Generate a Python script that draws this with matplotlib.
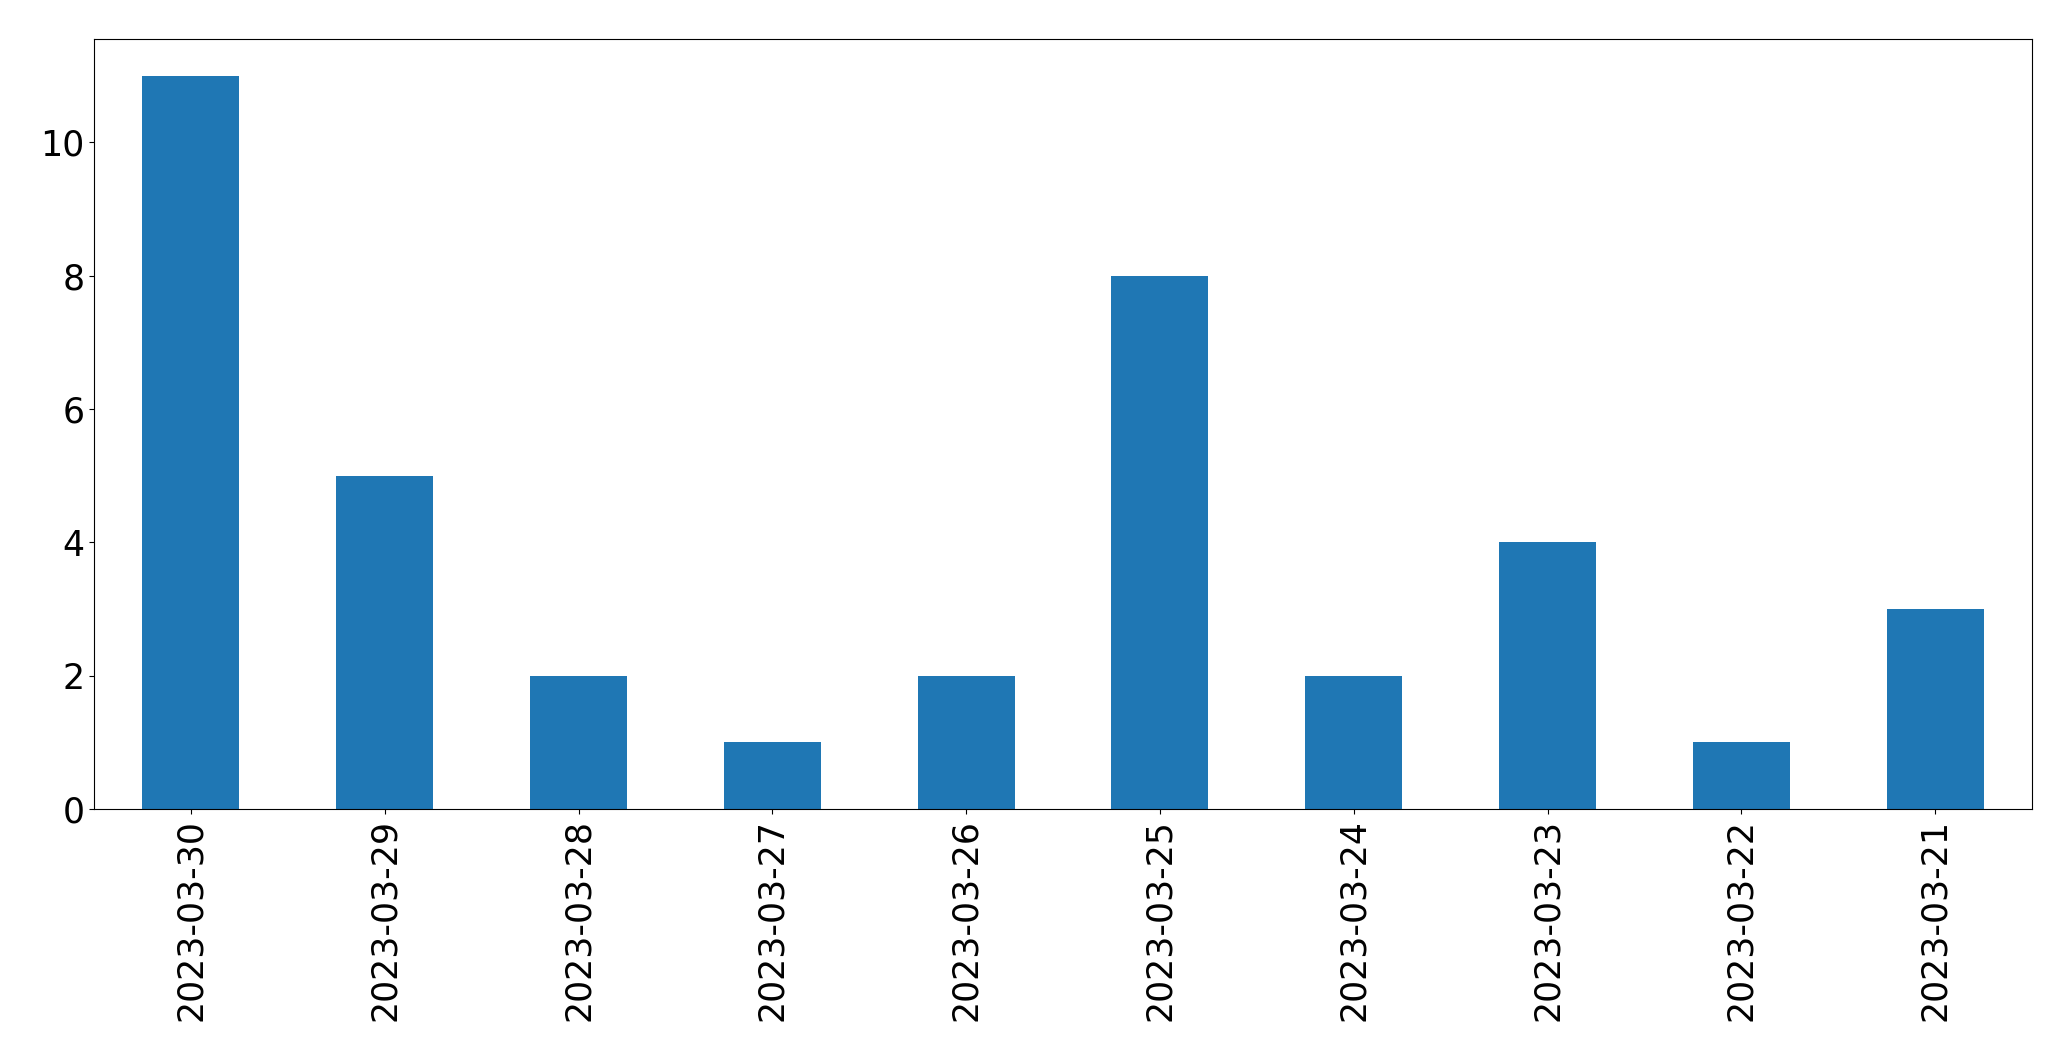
import matplotlib
matplotlib.use('Agg')
import matplotlib.pyplot as plt

dates = ['2023-03-30', '2023-03-29', '2023-03-28', '2023-03-27', '2023-03-26',
         '2023-03-25', '2023-03-24', '2023-03-23', '2023-03-22', '2023-03-21']
counts = [11, 5, 2, 1, 2, 8, 2, 4, 1, 3]

fig = plt.figure(figsize=(20.71, 10.61), dpi=100)
ax = fig.add_axes([94 / 2071, 1 - 809 / 1061, (2032 - 94) / 2071, (809 - 39) / 1061])

x = range(len(dates))
ax.bar(x, counts, width=0.5, color='#1f77b4')
ax.set_xlim(-0.5, len(dates) - 0.5)
ax.set_ylim(0, max(counts) * 1.05)
ax.set_xticks(list(x))
ax.set_xticklabels(dates, rotation=90)
ax.tick_params(labelsize=25)

fig.savefig('out.png', dpi=100)
